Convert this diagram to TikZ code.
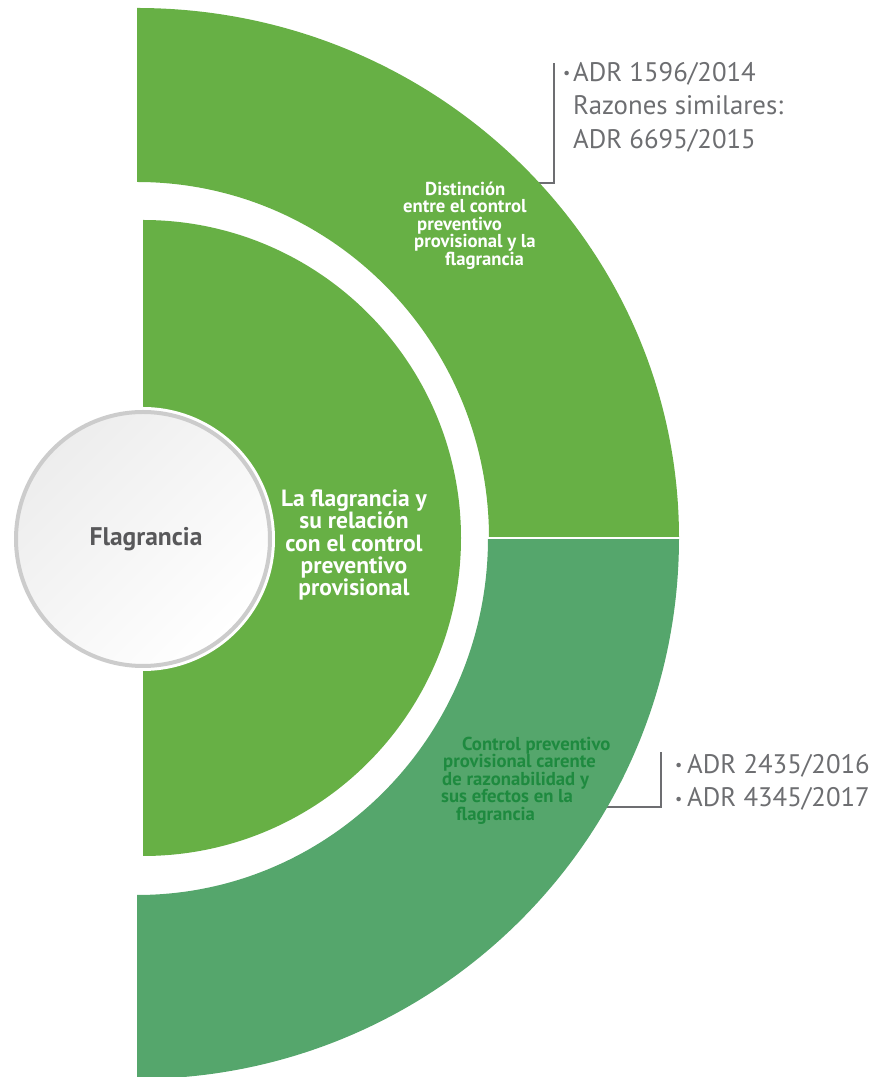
\documentclass[tikz,border=0pt]{standalone}
\usepackage{fontspec}
\setmainfont{PT Sans}
\usetikzlibrary{positioning}
\definecolor{leafgreen}{HTML}{67B045}
\definecolor{seagreen}{HTML}{55A66C}
\definecolor{deepgreen}{HTML}{1E8A3F}
\definecolor{refgray}{HTML}{6D6E71}
\definecolor{titlegray}{HTML}{58585A}
\newcommand{\refdot}{{\fontsize{16}{16}\selectfont\raisebox{2.5pt}{•}}}

\begin{document}
\begin{tikzpicture}
[x=1pt,y=1pt,
 topic/.style={font=\bfseries\fontsize{18.7}{17.6}\selectfont,align=flush left,inner sep=0pt,anchor=north west},
 reftext/.style={font=\fontsize{26.8}{33.5}\selectfont,text=refgray,align=flush left,inner sep=0pt},
 bracket/.style={draw=refgray,line width=2pt}]
\useasboundingbox (0,0) rectangle (875,1077);
\coordinate (o) at (137,539);
% brackets first, the rings hide their left ends
\coordinate (b1) at (500,894); \coordinate (t1) at (554,1014);
\coordinate (b2) at (580,270); \coordinate (t2) at (661,325);
\draw[bracket] (b1) -| (t1);
\draw[bracket] (b2) -| (t2);
% outer half ring
\fill[leafgreen] (o) ++(0,530) arc[start angle=90,end angle=0,x radius=542,y radius=530]
  -- ++(-190,0) arc[start angle=0,end angle=90,x radius=352,y radius=356] -- cycle;
\fill[seagreen] (o) ++(542,0) arc[start angle=0,end angle=-90,x radius=542,y radius=541]
  -- ++(0,184) arc[start angle=-90,end angle=0,x radius=351,y radius=357] -- cycle;
\draw[white,line width=2.5pt] (470,539) -- (700,539);
% inner half disc
\fill[leafgreen] (143,857) arc[start angle=90,end angle=-90,radius=318] -- cycle;
\fill[white] (143,538) circle (132);
\node[circle,minimum size=254pt,inner sep=0pt,draw=black!20,line width=4pt,
  top color=black!7,bottom color=white,shading angle=45,text=titlegray,
  font=\bfseries\fontsize{25.5}{25.5}\selectfont] (core) at (143,538) {\hspace*{6pt}Flagrancia};
\node[font=\bfseries\fontsize{23.5}{22.2}\selectfont,text=white,align=flush center,inner sep=0pt]
  (theme) at (354,532) {La flagrancia y\\su relación\\con el control\\preventivo\\provisional};
\node[topic,text=white] (upper) at (403,896.5) {\rule{0pt}{14.5pt}\hspace*{22pt}Distinción\\entre el control\\
  \hspace*{14pt}preventivo\\\hspace*{11pt}provisional y la\\\hspace*{42pt}flagrancia};
\node[topic,text=deepgreen] (lower) at (441,341.5) {\rule{0pt}{14.5pt}\hspace*{21pt}Control preventivo\\
  \hspace*{2pt}provisional carente\\\hspace*{1pt}de razonabilidad y\\sus efectos en la\\\hspace*{15pt}flagrancia};
\node[reftext,below right=-1pt and 9pt of t1] (refA) {\rule{0pt}{19pt}\makebox[10pt][l]{\refdot}ADR 1596/2014\\
  \hspace*{10pt}Razones similares:\\\hspace*{10pt}ADR 6695/2015};
\node[reftext,below right=2pt and 14pt of t2] (refB) {\rule{0pt}{19pt}\makebox[12pt][l]{\refdot}ADR 2435/2016\\
  \makebox[12pt][l]{\refdot}ADR 4345/2017};
\end{tikzpicture}
\end{document}
